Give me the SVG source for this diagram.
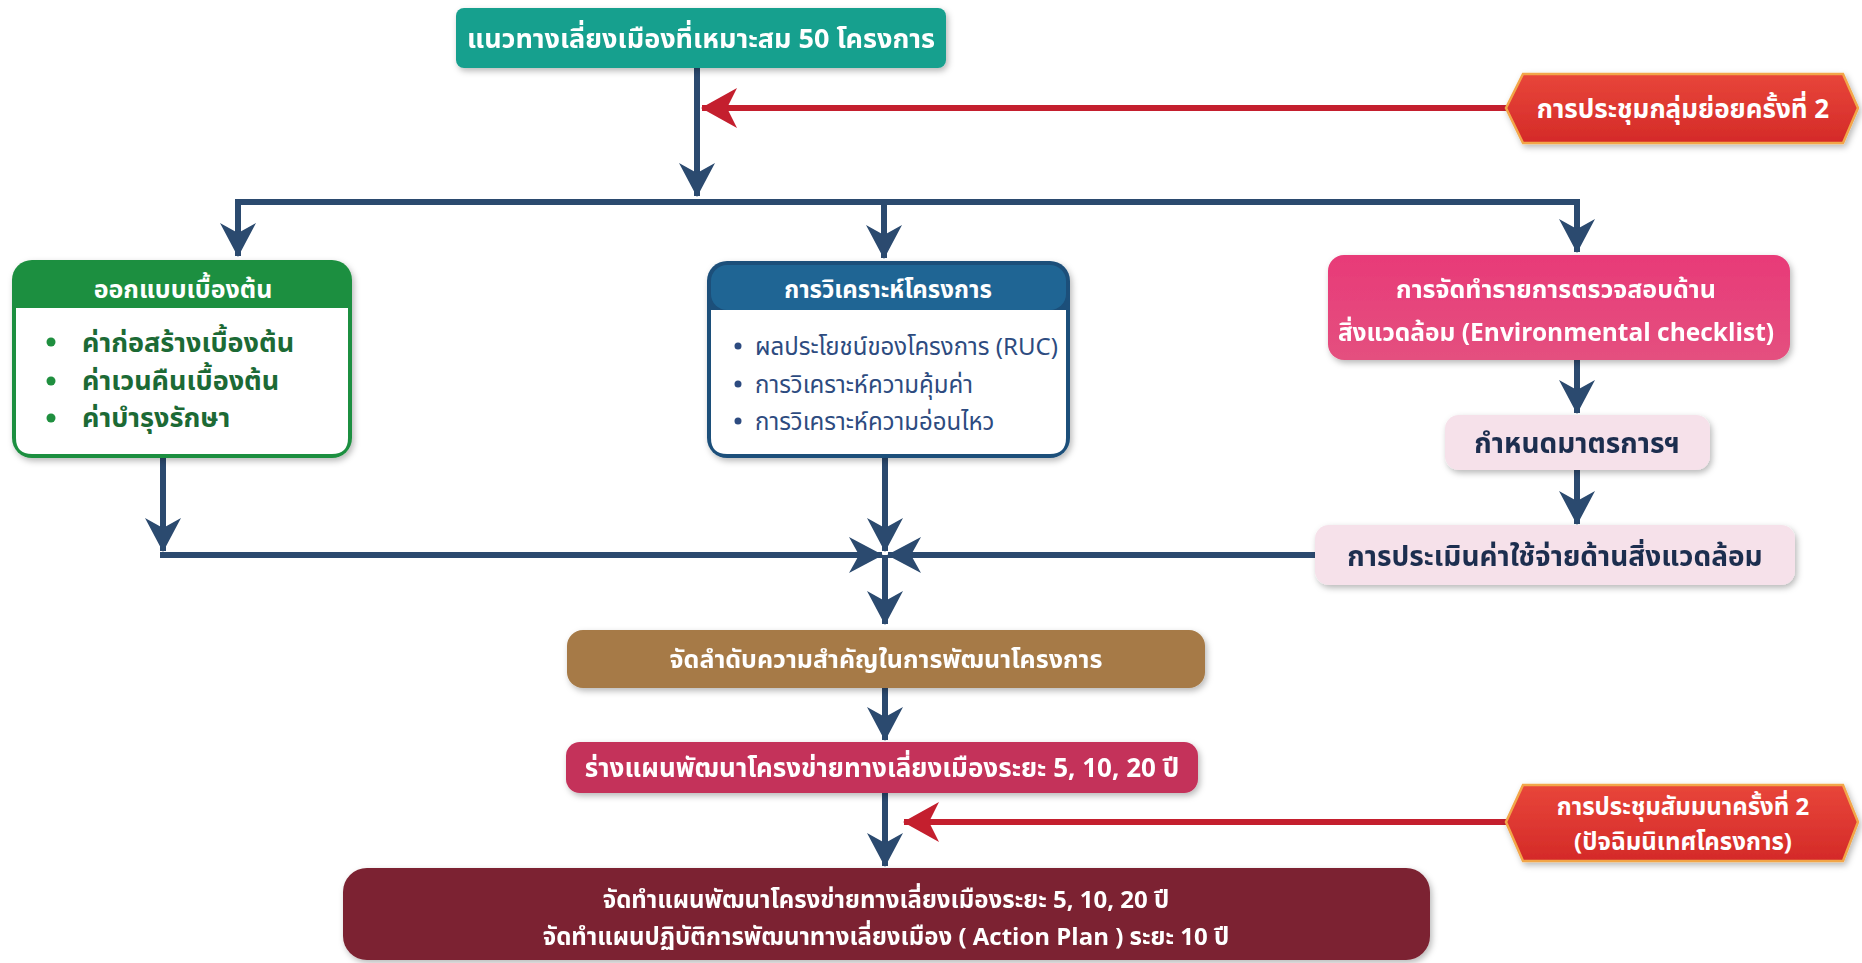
<svg xmlns="http://www.w3.org/2000/svg" width="1862" height="963" viewBox="0 0 1862 963">
<style>
text{font-family:"Noto Sans Thai","Noto Sans","DejaVu Sans","Liberation Sans",sans-serif;}
.w{fill:#ffffff;}
.c{text-anchor:middle;}
.nav{stroke:#2b4a6f;stroke-width:6;fill:none;}
.red{stroke:#c41f2e;stroke-width:6;fill:none;}
.hex{fill:url(#gRed);stroke:#f2a64a;stroke-width:2.5;filter:url(#sh);}
.box{filter:url(#sh);}
</style>
<defs>
<filter id="sh" x="-10%" y="-20%" width="120%" height="150%">
<feDropShadow dx="2" dy="3" stdDeviation="3" flood-color="#000" flood-opacity="0.28"/>
</filter>
<linearGradient id="gRed" x1="0" y1="0" x2="0" y2="1">
<stop offset="0" stop-color="#e8463a"/><stop offset="1" stop-color="#d42a28"/>
</linearGradient>
<linearGradient id="gPink" x1="0" y1="0" x2="0" y2="1">
<stop offset="0" stop-color="#e83a78"/><stop offset="1" stop-color="#e4507f"/>
</linearGradient>
<marker id="an" viewBox="0 -20 34 40" refX="33" refY="0" markerWidth="34" markerHeight="40" markerUnits="userSpaceOnUse" orient="auto">
<path d="M0,-18 L34,0 L0,18 L10,0 Z" fill="#2b4a6f"/>
</marker>
<marker id="ar" viewBox="0 -22 36 44" refX="35" refY="0" markerWidth="36" markerHeight="44" markerUnits="userSpaceOnUse" orient="auto">
<path d="M0,-20 L36,0 L0,20 L10,0 Z" fill="#c41f2e"/>
</marker>
</defs>
<rect width="1862" height="963" fill="#ffffff"/>

<g id="connectors">
<line class="nav" x1="697" y1="68" x2="697" y2="196" marker-end="url(#an)"/>
<line class="red" x1="1506" y1="108" x2="702" y2="108" marker-end="url(#ar)"/>
<polyline class="nav" points="235,202 1577,202 1577,252" marker-end="url(#an)"/>
<line class="nav" x1="238" y1="199" x2="238" y2="256" marker-end="url(#an)"/>
<line class="nav" x1="884" y1="202" x2="884" y2="258" marker-end="url(#an)"/>
<line class="nav" x1="1577" y1="360" x2="1577" y2="413" marker-end="url(#an)"/>
<line class="nav" x1="1577" y1="470" x2="1577" y2="524" marker-end="url(#an)"/>
<line class="nav" x1="163" y1="458" x2="163" y2="551" marker-end="url(#an)"/>
<line class="nav" x1="160" y1="555" x2="882" y2="555" marker-end="url(#an)"/>
<line class="nav" x1="885" y1="458" x2="885" y2="551" marker-end="url(#an)"/>
<line class="nav" x1="1316" y1="555" x2="888" y2="555" marker-end="url(#an)"/>
<line class="nav" x1="885" y1="555" x2="885" y2="624" marker-end="url(#an)"/>
<line class="nav" x1="885" y1="688" x2="885" y2="740" marker-end="url(#an)"/>
<line class="nav" x1="885" y1="793" x2="885" y2="866" marker-end="url(#an)"/>
<line class="red" x1="1506" y1="822" x2="904" y2="822" marker-end="url(#ar)"/>
</g>

<g id="n-top" class="box">
<rect x="456" y="8" width="490" height="60" rx="8" fill="#19a08e"/>
<text class="w c" x="701" y="48" font-size="27" font-weight="bold">แนวทางเลี่ยงเมืองที่เหมาะสม 50 โครงการ</text>
</g>

<g id="n-meeting1">
<polygon class="hex" points="1506,108 1523,74 1843,74 1858,108 1843,143 1523,143"/>
<text class="w c" x="1683" y="118" font-size="26" font-weight="bold">การประชุมกลุ่มย่อยครั้งที่ 2</text>
</g>

<g id="n-design">
<rect class="box" x="12" y="260" width="340" height="198" rx="20" fill="#1f8f3f"/>
<path d="M16,308 H348 V438 Q348,454 332,454 H32 Q16,454 16,438 Z" fill="#ffffff"/>
<text class="w c" x="183" y="298" font-size="25" font-weight="bold">ออกแบบเบื้องต้น</text>
<g fill="#1f8f3f"><circle cx="51" cy="342" r="4.5"/><circle cx="51" cy="381" r="4.5"/><circle cx="51" cy="418" r="4.5"/></g>
<g fill="#1c6a35" font-size="27" font-weight="bold">
<text x="82" y="352">ค่าก่อสร้างเบื้องต้น</text>
<text x="82" y="390">ค่าเวนคืนเบื้องต้น</text>
<text x="82" y="427">ค่าบำรุงรักษา</text>
</g>
</g>

<g id="n-analysis">
<rect class="box" x="707" y="261" width="363" height="197" rx="20" fill="#1c4f7a"/>
<rect x="711" y="265" width="355" height="45" rx="16" fill="#1f6594"/>
<path d="M711,310 H1066 V438 Q1066,454 1050,454 H727 Q711,454 711,438 Z" fill="#ffffff"/>
<text class="w c" x="888" y="298" font-size="24" font-weight="bold">การวิเคราะห์โครงการ</text>
<g fill="#2d4b80"><circle cx="738" cy="346" r="3.5"/><circle cx="738" cy="384" r="3.5"/><circle cx="738" cy="421" r="3.5"/></g>
<g fill="#2d4b80" font-size="24">
<text x="755" y="355">ผลประโยชน์ของโครงการ (RUC)</text>
<text x="755" y="393">การวิเคราะห์ความคุ้มค่า</text>
<text x="755" y="430">การวิเคราะห์ความอ่อนไหว</text>
</g>
</g>

<g id="n-envcheck" class="box">
<rect x="1328" y="255" width="462" height="105" rx="16" fill="url(#gPink)"/>
<text class="w c" x="1556" y="298" font-size="25" font-weight="bold">การจัดทำรายการตรวจสอบด้าน</text>
<text class="w c" x="1556" y="341" font-size="24.5" font-weight="bold">สิ่งแวดล้อม (Environmental checklist)</text>
</g>

<g id="n-measure" class="box">
<rect x="1445" y="415" width="265" height="55" rx="14" fill="#f6e1ea"/>
<text class="c" x="1577" y="453" font-size="28" font-weight="bold" fill="#1f2f4f">กำหนดมาตรการฯ</text>
</g>

<g id="n-envcost" class="box">
<rect x="1315" y="525" width="480" height="60" rx="14" fill="#f6e1ea"/>
<text class="c" x="1555" y="566" font-size="28" font-weight="bold" fill="#1f2f4f">การประเมินค่าใช้จ่ายด้านสิ่งแวดล้อม</text>
</g>

<g id="n-priority" class="box">
<rect x="567" y="630" width="638" height="58" rx="16" fill="#a67a46"/>
<text class="w c" x="886" y="668" font-size="25" font-weight="bold">จัดลำดับความสำคัญในการพัฒนาโครงการ</text>
</g>

<g id="n-draft" class="box">
<rect x="566" y="742" width="632" height="51" rx="14" fill="#c4305a"/>
<text class="w c" x="882" y="777" font-size="26" font-weight="bold">ร่างแผนพัฒนาโครงข่ายทางเลี่ยงเมืองระยะ 5, 10, 20 ปี</text>
</g>

<g id="n-meeting2">
<polygon class="hex" points="1506,822 1523,785 1843,785 1858,822 1843,861 1523,861"/>
<text class="w c" x="1683" y="815" font-size="24" font-weight="bold">การประชุมสัมมนาครั้งที่ 2</text>
<text class="w c" x="1683" y="850" font-size="24" font-weight="bold">(ปัจฉิมนิเทศโครงการ)</text>
</g>

<g id="n-final" class="box">
<rect x="343" y="868" width="1087" height="92" rx="24" fill="#7b2230"/>
<text class="w c" x="886" y="908" font-size="24" font-weight="bold">จัดทำแผนพัฒนาโครงข่ายทางเลี่ยงเมืองระยะ 5, 10, 20 ปี</text>
<text class="w c" x="886" y="945" font-size="24" font-weight="bold">จัดทำแผนปฏิบัติการพัฒนาทางเลี่ยงเมือง ( Action Plan ) ระยะ 10 ปี</text>
</g>
</svg>
